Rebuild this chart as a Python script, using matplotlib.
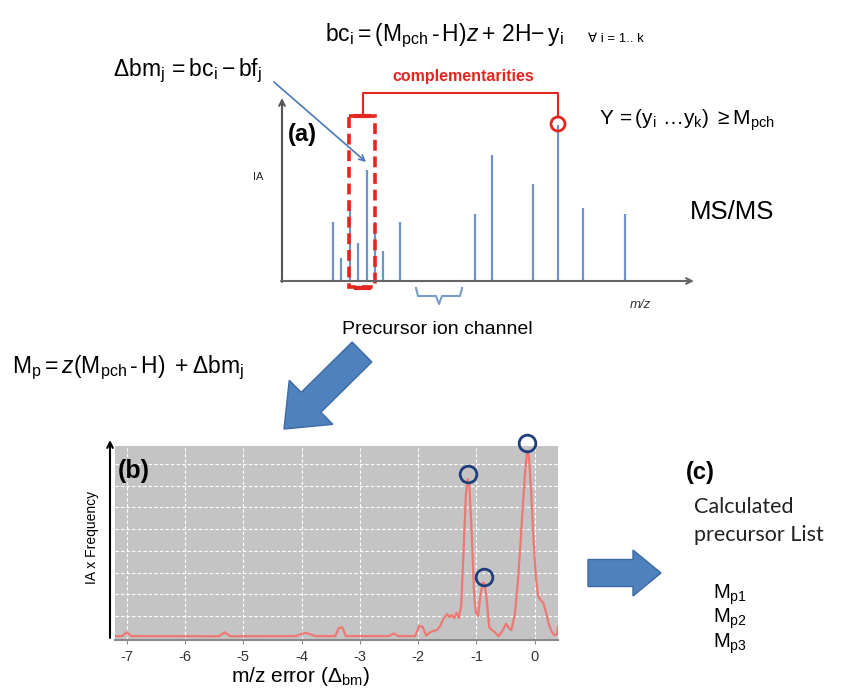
import matplotlib.pyplot as plt
from matplotlib.patches import Rectangle, Circle, FancyArrow

plt.rcParams['font.family'] = ['Liberation Sans', 'DejaVu Sans']
plt.rcParams['mathtext.fontset'] = 'custom'
plt.rcParams['mathtext.rm'] = 'Liberation Sans'
plt.rcParams['mathtext.it'] = 'Liberation Sans:italic'
plt.rcParams['mathtext.bf'] = 'Liberation Sans:bold'
plt.rcParams['mathtext.default'] = 'regular'
plt.rcParams['axes.unicode_minus'] = False

# (a) MS/MS stick spectrum, arbitrary m/z units
spec_mz = [51, 59, 68, 76, 85, 93, 101, 118, 193, 210, 251, 276, 301, 343]
spec_ia = [59, 23, 80, 38, 111, 59, 30, 59, 67, 126, 97, 156, 73, 67]

# (b) IA x frequency vs m/z error
err_x = [-7.2, -7.08, -7.0, -6.92, -5.42, -5.32, -5.22, -4.1, -4.0, -3.92, -3.84,
         -3.76, -3.42, -3.36, -3.30, -3.24, -2.5, -2.42, -2.34, -2.05, -1.98, -1.92,
         -1.86, -1.80, -1.74, -1.68, -1.62, -1.56, -1.50, -1.46, -1.42, -1.38, -1.34,
         -1.30, -1.26, -1.22, -1.18, -1.15, -1.12, -1.08, -1.04, -1.01, -0.97, -0.93,
         -0.89, -0.86, -0.82, -0.78, -0.73, -0.68, -0.62, -0.56, -0.49, -0.44, -0.40,
         -0.34, -0.29, -0.24, -0.20, -0.16, -0.13, -0.10, -0.06, -0.02, 0.02, 0.06,
         0.10, 0.15, 0.20, 0.24, 0.29, 0.34, 0.38, 0.40]
err_y = [0.7, 0.8, 2.5, 0.8, 0.7, 2.5, 0.7, 0.8, 1.8, 2.3, 1.5,
         0.8, 0.8, 4.5, 4.8, 0.8, 0.8, 2.0, 0.8, 0.8, 5.5, 5.0,
         1.0, 2.5, 3.2, 3.5, 5.5, 9.0, 11.0, 9.5, 10.5, 9.0, 11.5,
         9.0, 15.0, 40.0, 66.0, 73.0, 70.0, 48.0, 20.0, 12.0, 10.0, 20.0,
         25.5, 25.0, 17.0, 5.0, 3.5, 2.5, 0.7, 3.0, 6.5, 4.5, 3.5,
         11.0, 25.0, 45.0, 62.0, 78.0, 86.0, 84.0, 67.0, 45.0, 28.0, 19.0,
         17.5, 16.0, 11.0, 6.5, 3.0, 1.2, 1.5, 5.0]
peak_x = [-1.15, -0.87, -0.14]
peak_y = [75.5, 28.0, 89.5]
err_ticks = [-7, -6, -5, -4, -3, -2, -1, 0]
precursors = ['p1', 'p2', 'p3']

W, H = 849, 689
RED = '#e3261f'
BLUE = '#4f81bd'

fig = plt.figure(figsize=(W / 100, H / 100), dpi=100)


def px_axes(x0, y0, x1, y1):
    return fig.add_axes([x0 / W, 1 - y1 / H, (x1 - x0) / W, (y1 - y0) / H])


# overlay in pixel coordinates for the diagram parts
ov = px_axes(0, 0, W, H)
ov.set_xlim(0, W)
ov.set_ylim(H, 0)
ov.axis('off')
ov.set_zorder(5)

# ---- panel (a)
ax_a = px_axes(282, 103, 690, 281)
ax_a.vlines(spec_mz, 0, spec_ia, color='#6e93c8', lw=1.6)
ax_a.set_xlim(0, 408)
ax_a.set_ylim(0, 178)
ax_a.axis('off')

ov.annotate('', xy=(282, 98), xytext=(282, 282),
            arrowprops=dict(arrowstyle='->', color='#555555', lw=1.5, shrinkA=0, shrinkB=0))
ov.annotate('', xy=(694, 281), xytext=(281, 281),
            arrowprops=dict(arrowstyle='->', color='#666666', lw=1.5, shrinkA=0, shrinkB=0))

ov.add_patch(Rectangle((349, 116), 26, 171, fill=False, ec=RED, lw=2.6, ls=(0, (3, 1.6))))
ov.plot([356, 369], [116, 116], color=RED, lw=3)
ov.plot([356, 369], [288, 288], color=RED, lw=3)
ov.plot([363, 363, 558, 558], [116, 93, 93, 117], color=RED, lw=1.5)
ov.add_patch(Circle((558, 124), 7, fill=False, ec=RED, lw=2))
ov.text(463, 76, 'complementarities', color=RED, fontsize=11.5, fontweight='bold',
        ha='center', va='center')

ov.annotate('', xy=(366, 162), xytext=(274, 82),
            arrowprops=dict(arrowstyle='->', color='#4a78b8', lw=1.2, shrinkA=0, shrinkB=0))

ov.text(325, 36, r'$bc_i = (M_{pch}\,\text{-}\,H)\mathit{z}+\,2H{-}\,y_i$',
        fontsize=16.5, ha='left', va='center')
ov.text(588, 39, '\u2200 i = 1.. k', fontsize=9.5, ha='left', va='center',
        family=['Liberation Sans', 'DejaVu Sans'])
ov.text(113, 71, r'$\Delta bm_j\,=bc_i - bf_j$', fontsize=16.5, ha='left', va='center')
ov.text(599, 120, r'$Y\,{=}(y_i\ \ldots y_k)\ {\geq}M_{pch}$', fontsize=15, ha='left', va='center')
ov.text(288, 135, '(a)', fontsize=17, fontweight='bold', ha='left', va='center')
ov.text(258, 177, 'IA', fontsize=8, ha='center', va='center', color='#222222')
ov.text(690, 212, 'MS/MS', fontsize=18.5, ha='left', va='center')
ov.text(640, 305, 'm/z', fontsize=9.5, style='italic', ha='center', va='center', color='#333333')

ov.plot([416, 418, 436, 439, 442, 460, 462], [288, 296, 296, 304, 296, 296, 288],
        color='#7a9cc9', lw=1.5)
ov.text(437, 329, 'Precursor ion channel', fontsize=14, ha='center', va='center')

# big diagonal arrow and Mp equation
ov.add_patch(FancyArrow(362, 352, -78, 77, width=28, head_width=62, head_length=38,
                        length_includes_head=True, fc=BLUE, ec='#3d6aa3', lw=1))
ov.text(12, 368, r'$M_p = \mathit{z}(M_{pch}\,\text{-}\,H)\ +\Delta bm_j$', fontsize=16.5,
        ha='left', va='center')

# ---- panel (b)
ax_b = px_axes(115, 446, 558, 640)
ax_b.set_facecolor('#c4c4c4')
ax_b.plot(err_x, err_y, color='#ee7873', lw=1.6)
ax_b.plot(peak_x, peak_y, 'o', ms=12, mfc='none', mec='#1f3f7c', mew=2, clip_on=False)
ax_b.set_xlim(-7.2, 0.4)
ax_b.set_ylim(-1, 88.3)
ax_b.set_xticks(err_ticks)
ax_b.set_xticklabels([str(t) for t in err_ticks], fontsize=10.5, color='#333333')
ax_b.set_yticks(range(10, 81, 10))
ax_b.tick_params(axis='y', left=False, labelleft=False)
ax_b.tick_params(axis='x', length=3, color='#888888', pad=4)
ax_b.grid(True, color='white', ls=(0, (3, 2)), lw=0.8)
ax_b.set_axisbelow(True)
for s in ['top', 'right', 'left']:
    ax_b.spines[s].set_visible(False)
ax_b.spines['bottom'].set_color('#8a8a8a')
ax_b.spines['bottom'].set_linewidth(1.5)

ov.annotate('', xy=(110, 440), xytext=(110, 638),
            arrowprops=dict(arrowstyle='->', color='black', lw=1.5, shrinkA=0, shrinkB=0))
ov.text(92, 537, 'IA x Frequency', fontsize=10, rotation=90, ha='center', va='center')
ov.text(118, 471, '(b)', fontsize=18, fontweight='bold', ha='left', va='center')
ov.text(300, 676, r'm/z error ($\Delta_{bm}$)', fontsize=15, ha='center', va='center')

# ---- panel (c)
ov.add_patch(FancyArrow(588, 573, 73, 0, width=27, head_width=46, head_length=28,
                        length_includes_head=True, fc=BLUE, ec='#3d6aa3', lw=1))
ov.text(686, 473, '(c)', fontsize=17, fontweight='bold', ha='left', va='center')
ov.text(694, 507, 'Calculated', fontsize=15.5, family='Lato', ha='left', va='center', color='#222222')
ov.text(694, 535, 'precursor List', fontsize=15.5, family='Lato', ha='left', va='center', color='#222222')
ov.text(713, 619, '\n'.join(r'$M_{%s}$' % p for p in precursors), fontsize=14.5,
        ha='left', va='center', linespacing=1.0)

fig.savefig('out.png', dpi=100)
